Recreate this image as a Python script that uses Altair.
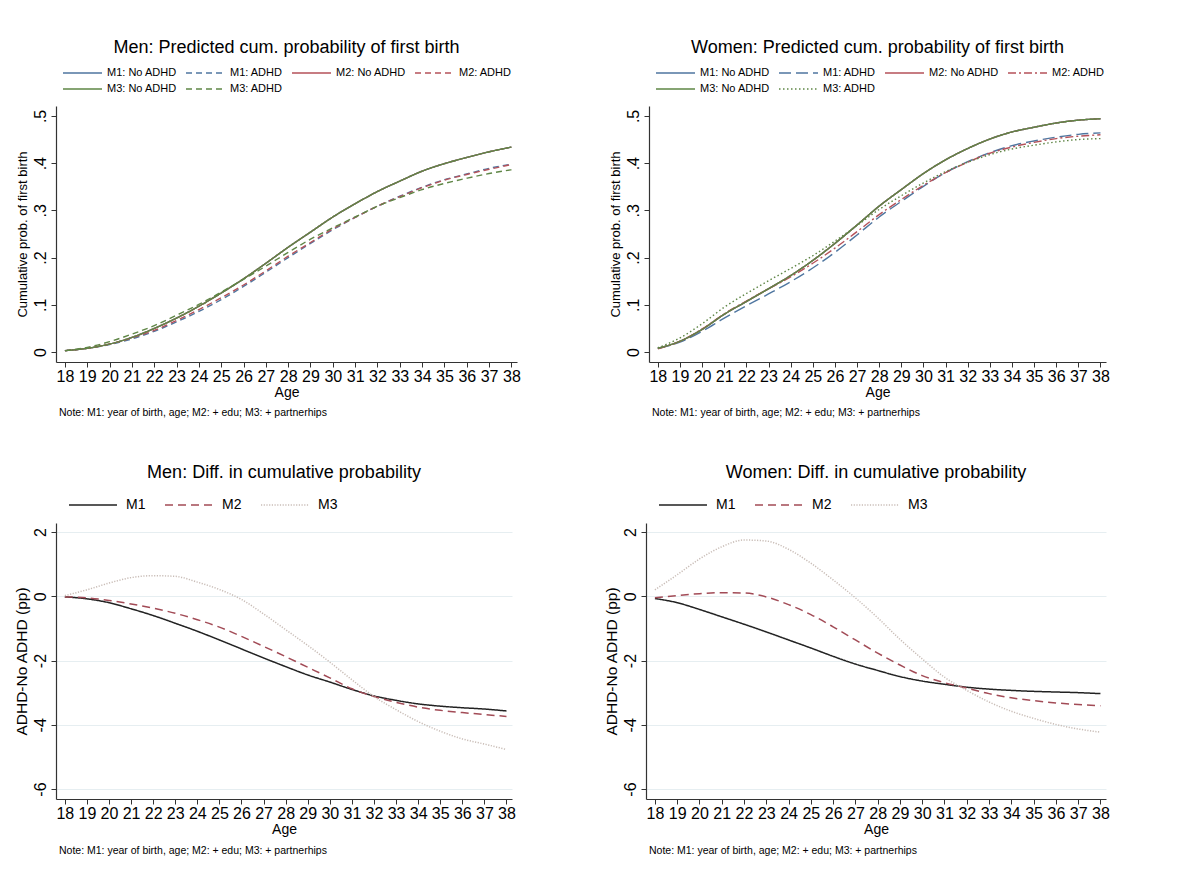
import altair as alt
import pandas as pd

ages = list(range(18, 39))
x_ticks = list(range(18, 39))
top_y_ticks = [0, 0.1, 0.2, 0.3, 0.4, 0.5]
diff_y_ticks = [-6, -4, -2, 0, 2]

# ---- Men: predicted cumulative probability of first birth ----
men_m1_noadhd = [0.003, 0.008, 0.017, 0.031, 0.050, 0.072, 0.097, 0.125, 0.155, 0.188, 0.222,
                 0.254, 0.286, 0.314, 0.340, 0.362, 0.383, 0.399, 0.412, 0.424, 0.434]
men_m1_adhd = [0.003, 0.008, 0.016, 0.028, 0.044, 0.064, 0.086, 0.111, 0.139, 0.169, 0.200,
               0.230, 0.259, 0.285, 0.309, 0.330, 0.349, 0.365, 0.377, 0.389, 0.398]
men_m2_noadhd = [0.003, 0.008, 0.017, 0.031, 0.050, 0.072, 0.097, 0.125, 0.155, 0.188, 0.222,
                 0.254, 0.286, 0.314, 0.340, 0.362, 0.383, 0.399, 0.412, 0.424, 0.434]
men_m2_adhd = [0.003, 0.008, 0.017, 0.030, 0.046, 0.067, 0.090, 0.115, 0.142, 0.172, 0.203,
               0.232, 0.261, 0.285, 0.309, 0.329, 0.348, 0.364, 0.376, 0.387, 0.397]
men_m3_noadhd = [0.003, 0.008, 0.017, 0.031, 0.050, 0.072, 0.097, 0.125, 0.155, 0.188, 0.222,
                 0.254, 0.286, 0.314, 0.340, 0.362, 0.383, 0.399, 0.412, 0.424, 0.434]
men_m3_adhd = [0.003, 0.010, 0.022, 0.038, 0.056, 0.078, 0.101, 0.127, 0.154, 0.182, 0.211,
               0.239, 0.263, 0.286, 0.309, 0.327, 0.344, 0.357, 0.368, 0.378, 0.386]

# ---- Women: predicted cumulative probability of first birth ----
women_m1_noadhd = [0.008, 0.023, 0.048, 0.080, 0.107, 0.134, 0.162, 0.194, 0.230, 0.269, 0.309,
                   0.344, 0.378, 0.407, 0.431, 0.451, 0.466, 0.476, 0.485, 0.491, 0.494]
women_m1_adhd = [0.008, 0.021, 0.044, 0.072, 0.098, 0.123, 0.149, 0.178, 0.211, 0.248, 0.286,
                 0.319, 0.351, 0.380, 0.403, 0.422, 0.437, 0.447, 0.455, 0.461, 0.464]
women_m2_noadhd = [0.008, 0.023, 0.048, 0.080, 0.107, 0.134, 0.162, 0.194, 0.230, 0.269, 0.309,
                   0.344, 0.378, 0.407, 0.431, 0.451, 0.466, 0.476, 0.485, 0.491, 0.494]
women_m2_adhd = [0.007, 0.023, 0.049, 0.081, 0.108, 0.134, 0.159, 0.188, 0.220, 0.255, 0.291,
                 0.323, 0.353, 0.380, 0.402, 0.421, 0.434, 0.444, 0.452, 0.457, 0.460]
women_m3_noadhd = [0.008, 0.023, 0.048, 0.080, 0.107, 0.134, 0.162, 0.194, 0.230, 0.269, 0.309,
                   0.344, 0.378, 0.407, 0.431, 0.451, 0.466, 0.476, 0.485, 0.491, 0.494]
women_m3_adhd = [0.009, 0.030, 0.060, 0.095, 0.124, 0.151, 0.177, 0.204, 0.235, 0.268, 0.302,
                 0.331, 0.358, 0.382, 0.402, 0.418, 0.430, 0.438, 0.445, 0.450, 0.452]

# ---- Differences ADHD - No ADHD (percentage points) ----
men_diff_m1 = [-0.02, -0.08, -0.20, -0.39, -0.60, -0.84, -1.09, -1.36, -1.64, -1.92, -2.19,
               -2.45, -2.67, -2.90, -3.10, -3.24, -3.35, -3.42, -3.47, -3.51, -3.57]
men_diff_m2 = [-0.02, -0.05, -0.13, -0.24, -0.37, -0.53, -0.73, -0.96, -1.25, -1.56, -1.88,
               -2.21, -2.54, -2.88, -3.12, -3.30, -3.45, -3.55, -3.62, -3.68, -3.74]
men_diff_m3 = [0.02, 0.20, 0.41, 0.58, 0.64, 0.62, 0.44, 0.21, -0.10, -0.55, -1.04,
               -1.53, -2.05, -2.60, -3.12, -3.53, -3.90, -4.20, -4.44, -4.60, -4.77]
women_diff_m1 = [-0.07, -0.20, -0.41, -0.64, -0.87, -1.11, -1.36, -1.61, -1.87, -2.11, -2.31,
                 -2.50, -2.64, -2.74, -2.83, -2.89, -2.93, -2.96, -2.98, -3.00, -3.03]
women_diff_m2 = [-0.05, 0.02, 0.08, 0.11, 0.10, -0.02, -0.26, -0.57, -0.95, -1.36, -1.77,
                 -2.14, -2.47, -2.69, -2.86, -3.03, -3.16, -3.25, -3.32, -3.37, -3.41]
women_diff_m3 = [0.20, 0.67, 1.16, 1.54, 1.75, 1.72, 1.46, 1.03, 0.51, -0.05, -0.67,
                 -1.34, -1.95, -2.52, -2.93, -3.29, -3.58, -3.80, -3.99, -4.13, -4.23]

top_names = ["M1: No ADHD", "M1: ADHD", "M2: No ADHD", "M2: ADHD", "M3: No ADHD", "M3: ADHD"]
diff_names = ["M1", "M2", "M3"]
note_text = "Note: M1: year of birth, age; M2: + edu; M3: + partnerhips"

FONT = "Liberation Sans"
BLUE, RED, GREEN = "#4f76a0", "#b5525a", "#5f8646"


def long_df(names, series):
    rows = []
    for name, vals in zip(names, series):
        for a, v in zip(ages, vals):
            rows.append({"age": a, "value": v, "series": name})
    return pd.DataFrame(rows)


def panel(df, names, colors, dashes, widths, title, title_offset, ytitle, ytitle_size,
          ydomain, yticks, ylabel_expr, grid, width, height, legend_kw, note_dy):
    legend = alt.Legend(title=None, orient="none", direction="horizontal", padding=0, **legend_kw)
    lines = alt.Chart(df).mark_line(interpolate="monotone").encode(
        x=alt.X("age:Q",
                scale=alt.Scale(domain=[17.6, 38.25], nice=False, zero=False),
                axis=alt.Axis(values=x_ticks, title="Age", labelOverlap=False, labelFlush=False,
                              labelFontSize=16, titleFontSize=14, tickSize=5, labelPadding=1,
                              titlePadding=1, grid=False)),
        y=alt.Y("value:Q",
                scale=alt.Scale(domain=ydomain, nice=False, zero=False),
                axis=alt.Axis(values=yticks, title=ytitle, labelExpr=ylabel_expr, labelAngle=-90,
                              labelAlign="center", labelBaseline="bottom",
                              labelFontSize=16, titleFontSize=ytitle_size, tickSize=5,
                              labelPadding=3, titlePadding=3, grid=grid, gridColor="#e6eef1",
                              gridWidth=1)),
        color=alt.Color("series:N", sort=names,
                        scale=alt.Scale(domain=names, range=colors), legend=legend),
        strokeDash=alt.StrokeDash("series:N", sort=names,
                                  scale=alt.Scale(domain=names, range=dashes), legend=legend),
        strokeWidth=alt.StrokeWidth("series:N", sort=names,
                                    scale=alt.Scale(domain=names, range=widths), legend=None),
    )
    note = alt.Chart(pd.DataFrame({"t": [note_text]})).mark_text(
        align="left", baseline="middle", fontSize=10.5, font=FONT, color="black"
    ).encode(text="t:N", x=alt.value(3), y=alt.value(height + note_dy))
    return alt.layer(lines, note).properties(
        width=width, height=height,
        title=alt.TitleParams(title, fontSize=18, font=FONT, fontWeight="normal",
                              color="black", anchor="middle", offset=title_offset),
    )


# legend symbols: long horizontal strokes drawn as a custom path inside a small symbol box
top_legend = dict(columns=4, legendX=6, legendY=-40, symbolType="M-1,0H5.5", symbolSize=144,
                  symbolStrokeWidth=1.4, labelFontSize=11, labelFont=FONT, labelColor="black",
                  columnPadding=6, rowPadding=4, labelOffset=31, labelLimit=200)
diff_legend = dict(columns=3, legendX=12, legendY=-26, symbolType="M-1,0H5.857", symbolSize=196,
                   symbolStrokeWidth=1.5, labelFontSize=14, labelFont=FONT, labelColor="black",
                   columnPadding=16, labelOffset=42)

top_label = "datum.value == 0 ? '0' : replace(format(datum.value, '.1f'), '0.', '.')"
diff_label = "datum.value + ''"

men_top = panel(
    long_df(top_names, [men_m1_noadhd, men_m1_adhd, men_m2_noadhd, men_m2_adhd,
                        men_m3_noadhd, men_m3_adhd]),
    top_names, [BLUE, BLUE, RED, RED, GREEN, GREEN],
    [[1, 0], [6, 4], [1, 0], [6, 4], [1, 0], [6, 4]], [1.4] * 6,
    "Men: Predicted cum. probability of first birth", 9,
    "Cumulative prob. of first birth", 13,
    [-0.021, 0.521], top_y_ticks, top_label, False, 461, 256, top_legend, 51)

women_top = panel(
    long_df(top_names, [women_m1_noadhd, women_m1_adhd, women_m2_noadhd, women_m2_adhd,
                        women_m3_noadhd, women_m3_adhd]),
    top_names, [BLUE, BLUE, RED, RED, GREEN, GREEN],
    [[1, 0], [12, 5], [1, 0], [8, 3, 2, 3], [1, 0], [1.5, 2.5]], [1.4] * 6,
    "Women: Predicted cum. probability of first birth", 9,
    "Cumulative prob. of first birth", 13,
    [-0.021, 0.521], top_y_ticks, top_label, False, 457, 256, top_legend, 51)

men_diff = panel(
    long_df(diff_names, [men_diff_m1, men_diff_m2, men_diff_m3]),
    diff_names, ["#222222", "#a24b56", "#c9bdb7"],
    [[1, 0], [8, 5], [1.2, 1.5]], [1.5, 1.5, 1.3],
    "Men: Diff. in cumulative probability", 15,
    "ADHD-No ADHD (pp)", 15.5,
    [-6.31, 2.28], diff_y_ticks, diff_label, True, 456, 276, diff_legend, 52)

women_diff = panel(
    long_df(diff_names, [women_diff_m1, women_diff_m2, women_diff_m3]),
    diff_names, ["#222222", "#a24b56", "#c9bdb7"],
    [[1, 0], [8, 5], [1.2, 1.5]], [1.5, 1.5, 1.3],
    "Women: Diff. in cumulative probability", 15,
    "ADHD-No ADHD (pp)", 15.5,
    [-6.31, 2.28], diff_y_ticks, diff_label, True, 460, 276, diff_legend, 52)


def indep(c):
    return c.resolve_scale(color="independent", strokeDash="independent",
                           strokeWidth="independent").resolve_legend(
        color="independent", strokeDash="independent")


chart = indep(alt.vconcat(
    indep(alt.hconcat(men_top, women_top, spacing=88)),
    indep(alt.hconcat(men_diff, women_diff, spacing=88)),
    spacing=45,
)).properties(
    padding={"left": 6, "top": 31, "right": 5, "bottom": 0},
).configure_view(stroke=None).configure_axis(
    domainColor="#333333", tickColor="#333333", labelColor="black", titleColor="black",
    labelFont=FONT, titleFont=FONT, titleFontWeight="normal", domainWidth=1.2,
).configure_legend(labelFont=FONT)

chart.save("out.html", embed_options={"renderer": "svg", "actions": False})
